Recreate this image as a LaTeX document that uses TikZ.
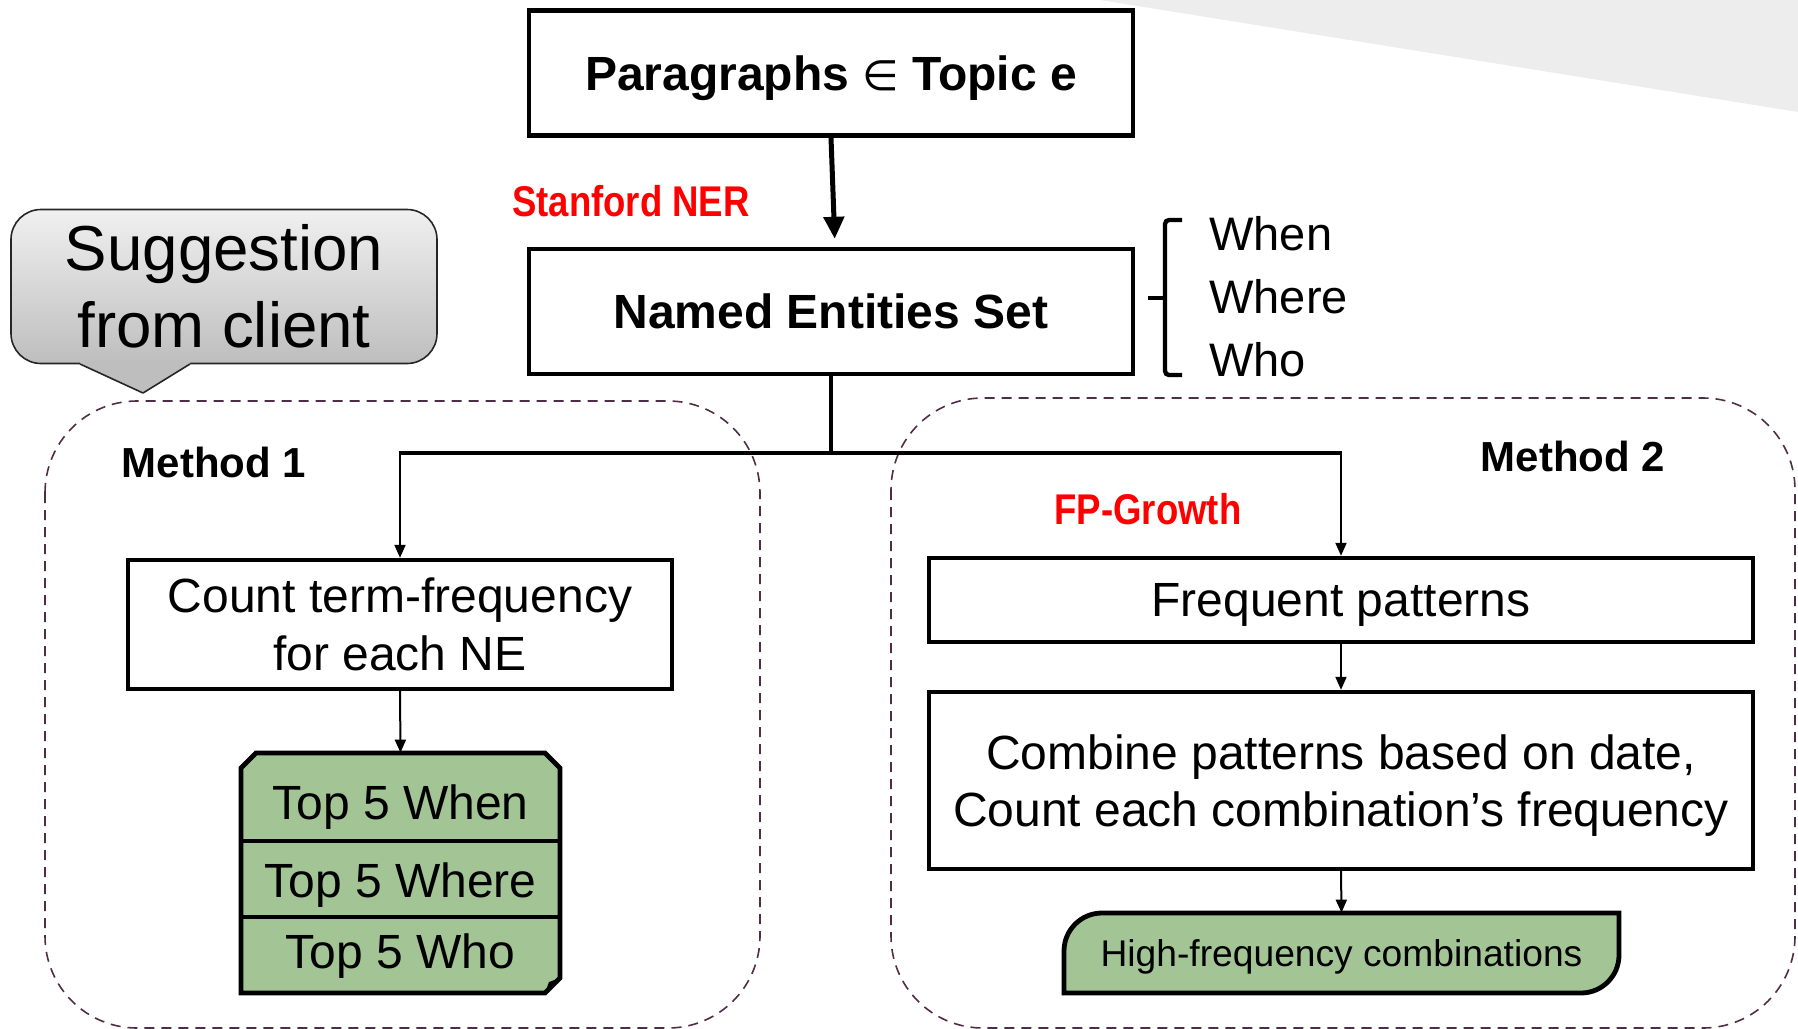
\documentclass[tikz,border=0pt]{standalone}
\usepackage{fontspec}
\setmainfont{Liberation Sans}
\newfontfamily\symfont{DejaVu Sans}
\usetikzlibrary{arrows.meta}
\definecolor{panelgreen}{RGB}{163,196,149}
\definecolor{dashline}{RGB}{80,45,70}
\definecolor{lblred}{RGB}{255,0,0}
\definecolor{wedgegray}{RGB}{237,237,237}
\definecolor{calltop}{RGB}{240,240,240}
\definecolor{callbot}{RGB}{190,190,190}
\tikzset{
  box/.style={draw, fill=white, line width=2.2pt, inner sep=0pt, align=center,
    font=\fontsize{24}{28.7}\selectfont},
  titlebox/.style={box, font=\bfseries\fontsize{24}{28.7}\selectfont},
  nodepth/.style={text depth=0pt},
  thinarrow/.style={line width=1pt, -{Triangle[length=6.5pt,width=5.5pt]}},
  bigarrow/.style={line width=2.5pt, -{Triangle[length=11pt,width=10pt]}},
  trunk/.style={line width=2.4pt},
  methodpanel/.style={draw=dashline, line width=0.8pt, dash pattern=on 5pt off 3.5pt,
    rounded corners=46pt},
  redlbl/.style={text=lblred, inner sep=0pt, font=\bfseries\fontsize{21.5}{24}\selectfont},
  methodlbl/.style={inner sep=0pt, font=\bfseries\fontsize{21}{24}\selectfont},
  listlbl/.style={anchor=base west, inner sep=0pt, font=\fontsize{23.5}{28}\selectfont},
  rowlbl/.style={inner sep=0pt, font=\fontsize{24}{28}\selectfont},
  greenline/.style={line width=2.4pt},
}
\begin{document}
\begin{tikzpicture}[x=0.5pt,y=-0.5pt]
\useasboundingbox (0,0) rectangle (1798,1028);

% grey wedge in the top-right corner
\fill[wedgegray] (1100,0) -- (1798,0) -- (1798,112) -- cycle;

% dashed panels of the two methods
\draw[methodpanel] (45,401) rectangle (760,1028);
\draw[methodpanel] (891,398) rectangle (1795,1028);

% callout
\node[draw=black!85, line width=0.8pt, rounded corners=15pt, top color=calltop,
  bottom color=callbot, minimum width=213pt, minimum height=77pt, inner sep=0pt,
  align=center, font=\fontsize{31.8}{38.5}\selectfont]
  (callout) at (224,286.5) {Suggestion\\from client};
\fill[callbot] (80,361) -- (190,361) -- (190,364) -- (143,393) -- (80,364) -- cycle;
\draw[black!85, line width=0.8pt, line join=round] (80,364) -- (143,393) -- (190,364);

% main chain
\node[titlebox, nodepth, minimum width=302pt, minimum height=62.5pt] (para) at (831,73)
  {Paragraphs {\symfont\mdseries\fontsize{21}{24}\selectfont ∈} Topic e};
\node[titlebox, minimum width=302pt, minimum height=62.5pt] (ner) at (831,311.5)
  {Named Entities Set};
\draw[bigarrow, shorten >=4pt] (para.south) -- ([xshift=2pt]ner.north);
\node[redlbl] (ner-lbl) at (631,201) {\scalebox{0.85}[1]{Stanford NER}};

% entity types
\draw[line width=2.2pt, rounded corners=2pt] (1182,220) -- (1165,220) -- (1165,375) -- (1182,375);
\draw[line width=2.2pt] (1148,298) -- (1165,298);
\node[listlbl] (when) at (1209,250) {When};
\node[listlbl] (where) at (1209,313) {Where};
\node[listlbl] (who) at (1209,376) {Who};

% method labels
\node[methodlbl] (m1) at (214,462) {Method 1};
\node[methodlbl] (m2) at (1573,456) {Method 2};
\node[redlbl] (fp-lbl) at (1148,509) {\scalebox{0.85}[1]{FP-Growth}};

% method 1
\node[box, minimum width=272pt, minimum height=64.5pt] (count) at (400,624.5)
  {Count term-frequency\\for each NE};
\node[inner sep=0pt, minimum width=159.5pt, minimum height=120pt] (stack) at (400.5,873) {};
\draw[greenline, fill=panelgreen] (241,768) -- (256,753) -- (545,753) -- (560,768)
  -- (560,978) -- (545,993) -- (241,993) -- cycle;
\fill (545,993) -- (560,978) -- (549,982) -- cycle;
\draw[greenline] (241,841) -- (560,841);
\draw[greenline] (241,917) -- (560,917);
\node[rowlbl] (t-when) at (400.5,807) {Top 5 When};
\node[rowlbl] (t-where) at (400.5,885) {Top 5 Where};
\node[rowlbl] (t-who) at (400.5,956) {Top 5 Who};

% method 2
\node[box, nodepth, minimum width=412pt, minimum height=42pt] (freq) at (1341,600)
  {Frequent patterns};
\node[box, nodepth, minimum width=412pt, minimum height=88.5pt] (comb) at (1341,780.5)
  {Combine patterns based on date,\\Count each combination’s frequency};
\draw[greenline, fill=panelgreen] (1064,993) -- (1064,951)
  .. controls (1064,930) and (1081,913) .. (1102,913) -- (1619,913) -- (1619,955)
  .. controls (1619,976) and (1602,993) .. (1581,993) -- cycle;
\node[inner sep=0pt, minimum width=277.5pt, minimum height=40pt,
  font=\fontsize{18.6}{22}\selectfont] (hf) at (1341.5,953) {};
\node[inner sep=0pt, font=\fontsize{18.6}{22}\selectfont] (hf-text) at (1341.5,957)
  {High-frequency combinations};

% connectors
\coordinate (split) at (831,453);
\draw[trunk] (ner.south) -- (split);
\draw[trunk] ([xshift=-0.6pt]count.north |- split) -- ([xshift=0.6pt]freq.north |- split);
\draw[thinarrow] (count.north |- split) -- (count.north);
\draw[thinarrow] (freq.north |- split) -- (freq.north);
\draw[thinarrow] (count.south) -- (stack.north);
\draw[thinarrow] (freq.south) -- (comb.north);
\draw[thinarrow] (comb.south) -- (hf.north);
\end{tikzpicture}
\end{document}
